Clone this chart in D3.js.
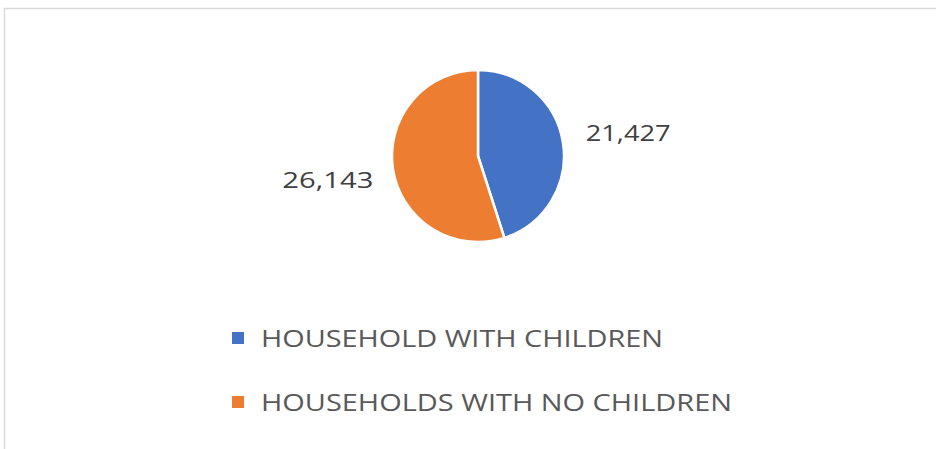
<!DOCTYPE html>
<html>
<head>
<meta charset="utf-8">
<script src="https://cdn.jsdelivr.net/npm/d3@7"></script>
<style>
  html, body { margin: 0; padding: 0; background: #fff; }
  svg { display: block; }
</style>
</head>
<body>
<svg id="chart" width="936" height="449"></svg>
<script>
// Household composition
const categories = ["HOUSEHOLD WITH CHILDREN", "HOUSEHOLDS WITH NO CHILDREN"];
const values = [21427, 26143];
const colors = ["#4472c4", "#ed7d31"];

const svg = d3.select("#chart");
const W = 936, H = 449;

// chart frame
svg.append("rect")
  .attr("x", 4.5).attr("y", 8.5)
  .attr("width", W + 10).attr("height", H + 10)
  .attr("fill", "#fff")
  .attr("stroke", "#d9d9d9")
  .attr("stroke-width", 1.5);

const cx = 478, cy = 156, r = 86;

const pie = d3.pie().sort(null).value(d => d)(values);
const arc = d3.arc().innerRadius(0).outerRadius(r);
const labelArc = d3.arc().innerRadius(152).outerRadius(152);

const g = svg.append("g").attr("transform", `translate(${cx},${cy})`);

g.selectAll("path.slice")
  .data(pie)
  .join("path")
  .attr("class", "slice")
  .attr("d", arc)
  .attr("fill", (d, i) => colors[i])
  .attr("stroke", "#fff")
  .attr("stroke-width", 2.5)
  .attr("stroke-linejoin", "round");

const fmt = d3.format(",");
const labelWidths = [85, 91];
g.selectAll("text.val")
  .data(pie)
  .join("text")
  .attr("class", "val")
  .attr("transform", d => `translate(${labelArc.centroid(d)})`)
  .attr("text-anchor", "middle")
  .attr("dy", "0.36em")
  .attr("font-family", "'Open Sans', 'Liberation Sans', sans-serif")
  .attr("font-size", 22.5)
  .attr("fill", "#404040")
  .attr("textLength", (d, i) => labelWidths[i])
  .attr("lengthAdjust", "spacingAndGlyphs")
  .text(d => fmt(d.data));

// legend
const legendX = 232, legendY0 = 338, legendStep = 64;
const legendWidths = [402, 471];
const lg = svg.append("g");
const items = lg.selectAll("g.item")
  .data(categories)
  .join("g")
  .attr("class", "item")
  .attr("transform", (d, i) => `translate(${legendX},${legendY0 + i * legendStep})`);

items.append("rect")
  .attr("x", 0).attr("y", -6)
  .attr("width", 12).attr("height", 12)
  .attr("fill", (d, i) => colors[i]);

items.append("text")
  .attr("x", 29)
  .attr("y", 8.5)
  .attr("font-family", "'Open Sans', 'Liberation Sans', sans-serif")
  .attr("font-size", 24.5)
  .attr("fill", "#595959")
  .attr("textLength", (d, i) => legendWidths[i])
  .attr("lengthAdjust", "spacingAndGlyphs")
  .text(d => d);
</script>
</body>
</html>
